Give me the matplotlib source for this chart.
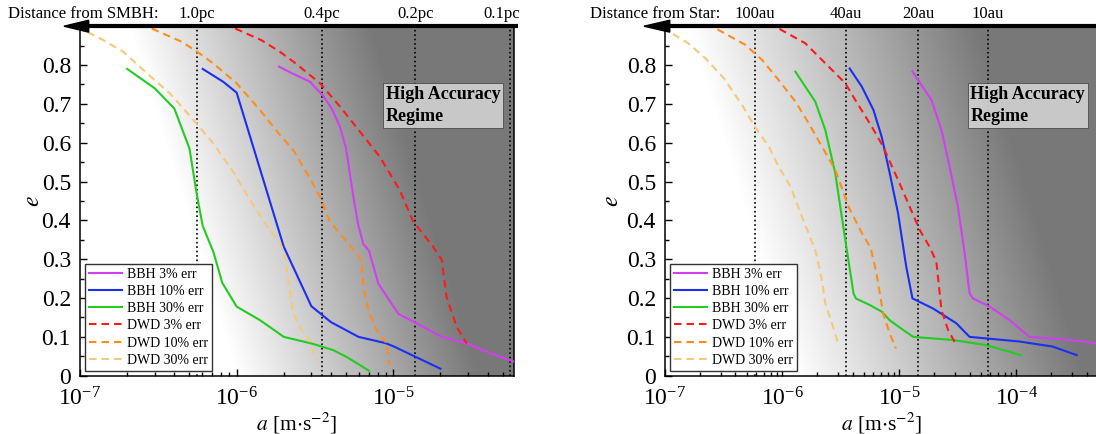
import numpy as np
import matplotlib
matplotlib.use("Agg")
from matplotlib import pyplot as plt
from matplotlib.patches import Polygon
from matplotlib.ticker import FixedLocator, FuncFormatter, LogLocator

plt.rcParams['font.family'] = ['Liberation Serif', 'DejaVu Serif']
plt.rcParams['mathtext.fontset'] = 'stix'

# ---------------- data ----------------
labels = ['BBH 3% err', 'BBH 10% err', 'BBH 30% err',
          'DWD 3% err', 'DWD 10% err', 'DWD 30% err']

# left panel: SMBH
smbh_dist_labels = ['1.0pc', '0.4pc', '0.2pc', '0.1pc']
smbh_dist_a = [5.6e-7, 3.5e-6, 1.38e-5, 5.57e-5]

smbh_bbh3_a = [1.86e-6, 2.2e-6, 2.94e-6, 3.58e-6, 4.05e-6, 4.57e-6, 5.0e-6, 5.56e-6, 5.98e-6,
               6.44e-6, 7.0e-6, 8.03e-6, 1.08e-5, 1.41e-5, 2.04e-5, 2.94e-5, 3.94e-5, 5.9e-5]
smbh_bbh3_e = [0.796, 0.781, 0.757, 0.720, 0.688, 0.641, 0.585, 0.461, 0.388,
               0.339, 0.322, 0.237, 0.159, 0.135, 0.100, 0.083, 0.062, 0.036]
smbh_bbh10_a = [6.07e-7, 8.2e-7, 1.0e-6, 2.0e-6, 3.0e-6, 4.0e-6, 6.0e-6, 8.9e-6, 1.0e-5, 2.0e-5]
smbh_bbh10_e = [0.790, 0.757, 0.729, 0.332, 0.179, 0.138, 0.100, 0.084, 0.076, 0.018]
smbh_bbh30_a = [2.0e-7, 3.0e-7, 4.0e-7, 5.0e-7, 5.55e-7, 6.07e-7, 7.1e-7, 8.1e-7, 1.0e-6,
                1.41e-6, 2.0e-6, 3.07e-6, 4.13e-6, 5.05e-6, 7.0e-6]
smbh_bbh30_e = [0.790, 0.740, 0.688, 0.585, 0.470, 0.386, 0.319, 0.239, 0.178,
                0.143, 0.100, 0.082, 0.066, 0.048, 0.013]
smbh_dwd3_a = [9.8e-7, 1.44e-6, 1.89e-6, 2.3e-6, 3.41e-6, 4.57e-6, 6.14e-6, 8.2e-6, 1.1e-5,
               1.34e-5, 1.8e-5, 2.04e-5, 2.19e-5, 2.54e-5, 2.94e-5]
smbh_dwd3_e = [0.894, 0.864, 0.834, 0.809, 0.753, 0.693, 0.628, 0.564, 0.478,
               0.397, 0.332, 0.298, 0.203, 0.126, 0.083]
smbh_dwd10_a = [2.87e-7, 4.46e-7, 5.7e-7, 7.1e-7, 1.0e-6, 1.41e-6, 1.89e-6, 2.3e-6, 2.94e-6,
                3.41e-6, 3.94e-6, 5.05e-6, 5.84e-6, 6.28e-6, 6.44e-6, 6.93e-6, 7.83e-6,
                9.08e-6, 9.44e-6]
smbh_dwd10_e = [0.894, 0.860, 0.832, 0.804, 0.753, 0.684, 0.620, 0.581, 0.508,
                0.461, 0.397, 0.345, 0.315, 0.297, 0.229, 0.169, 0.118, 0.083, 0.027]
smbh_dwd30_a = [1.12e-7, 1.41e-7, 1.89e-7, 2.67e-7, 3.75e-7, 5.42e-7, 7.1e-7, 9.5e-7, 1.22e-6,
                1.52e-6, 1.89e-6, 2.0e-6, 2.14e-6, 2.3e-6, 2.6e-6, 2.94e-6, 3.17e-6]
smbh_dwd30_e = [0.885, 0.864, 0.834, 0.779, 0.727, 0.654, 0.598, 0.525, 0.452,
                0.392, 0.341, 0.320, 0.246, 0.160, 0.118, 0.091, 0.040]

# right panel: star
star_dist_labels = ['100au', '40au', '20au', '10au']
star_dist_a = [5.85e-7, 3.53e-6, 1.45e-5, 5.74e-5]

star_bbh3_a = [1.3e-5, 1.89e-5, 2.3e-5, 2.7e-5, 3.18e-5, 3.63e-5, 4.0e-5, 4.27e-5, 5.93e-5,
               8.8e-5, 1.3e-4, 2.85e-4, 5.0e-4]
star_bbh3_e = [0.783, 0.710, 0.633, 0.538, 0.435, 0.315, 0.212, 0.199, 0.178,
               0.143, 0.100, 0.092, 0.083]
star_bbh10_a = [3.78e-6, 4.81e-6, 6.04e-6, 7.1e-6, 8.32e-6, 9.8e-6, 1.15e-5, 1.3e-5, 1.95e-5,
                3.08e-5, 4.0e-5, 1.07e-4, 2.05e-4, 3.29e-4]
star_bbh10_e = [0.791, 0.744, 0.684, 0.615, 0.521, 0.418, 0.281, 0.199, 0.173,
                0.135, 0.100, 0.088, 0.075, 0.053]
star_bbh30_a = [1.3e-6, 1.92e-6, 2.34e-6, 2.85e-6, 3.47e-6, 4.08e-6, 4.27e-6, 5.62e-6, 7.1e-6,
                8.3e-6, 1.08e-5, 1.32e-5, 2.88e-5, 5.5e-5, 1.1e-4]
star_bbh30_e = [0.783, 0.706, 0.633, 0.521, 0.349, 0.212, 0.199, 0.182, 0.165,
                0.143, 0.118, 0.100, 0.092, 0.079, 0.053]
star_dwd3_a = [9.5e-7, 1.58e-6, 2.5e-6, 3.47e-6, 4.22e-6, 5.85e-6, 7.3e-6, 1.01e-5, 1.5e-5,
               1.82e-5, 2.08e-5, 2.3e-5, 2.62e-5, 3.04e-5]
star_dwd3_e = [0.893, 0.856, 0.796, 0.753, 0.710, 0.641, 0.590, 0.495, 0.375,
               0.332, 0.294, 0.169, 0.118, 0.082]
star_dwd10_a = [2.8e-7, 4.86e-7, 6.76e-7, 9.37e-7, 1.3e-6, 1.69e-6, 2.19e-6, 2.85e-6, 3.7e-6,
                4.81e-6, 5.7e-6, 6.4e-6, 7.3e-6, 8.3e-6, 9.4e-6]
star_dwd10_e = [0.892, 0.852, 0.813, 0.761, 0.706, 0.650, 0.590, 0.530, 0.435,
                0.367, 0.330, 0.264, 0.161, 0.109, 0.070]
star_dwd30_a = [1.17e-7, 1.58e-7, 2.22e-7, 3.18e-7, 4.56e-7, 5.85e-7, 7.7e-7, 9.37e-7, 1.18e-6,
                1.48e-6, 1.92e-6, 2.19e-6, 2.34e-6, 2.67e-6, 3.04e-6]
star_dwd30_e = [0.880, 0.856, 0.817, 0.766, 0.697, 0.641, 0.590, 0.538, 0.487,
                0.409, 0.324, 0.246, 0.186, 0.135, 0.079]

colors = ['#d040f0', '#1a2ff0', '#22cc22', '#ff1a1a', '#ff8c1a', '#f5c87a']
dash = (0, (3.6, 2.4))


def shade(ax, xmin, xmax, u0, u1):
    # diagonal grey background, darker to the upper right
    xe = np.logspace(np.log10(xmin), np.log10(xmax), 301)
    ye = np.linspace(0, 0.9, 101)
    xc = (np.arange(300) + 0.5) / 300
    yc = (np.arange(100) + 0.5) / 100
    u = xc[None, :] + 0.25 * yc[:, None]
    t = np.clip((u - u0) / (u1 - u0), 0, 1)
    g = 1 - 0.53 * t
    ax.pcolormesh(xe, ye, g, cmap='gray', vmin=0, vmax=1, shading='flat', zorder=0,
                  rasterized=True)


def panel(ax, xmax, curves, dist_a, dist_labels, u0, u1, tip, base, ylab_x):
    shade(ax, 1e-7, xmax, u0, u1)
    for a in dist_a:
        ax.axvline(a, color='k', ls=':', lw=1.2, zorder=1)
    for i, (a, e) in enumerate(curves):
        ls = '-' if i < 3 else dash
        ax.plot(a, e, color=colors[i], lw=1.5, ls=ls, label=labels[i], zorder=3)

    ax.set_xscale('log')
    ax.set_xlim(1e-7, xmax)
    ax.set_ylim(0, 0.9)
    ax.yaxis.set_major_locator(FixedLocator(np.arange(0, 0.85, 0.1)))
    ax.yaxis.set_minor_locator(FixedLocator(np.arange(0.05, 0.9, 0.1)))
    ax.yaxis.set_major_formatter(FuncFormatter(lambda v, p: '0' if abs(v) < 1e-9 else f'{v:.1f}'))
    ax.xaxis.set_major_locator(LogLocator(base=10, numticks=10))
    ax.xaxis.set_minor_locator(LogLocator(base=10, subs=np.arange(2, 10), numticks=20))
    ax.tick_params(which='both', direction='in', labelsize=17, width=1)
    ax.tick_params(axis='y', pad=6.5)
    ax.tick_params(axis='x', pad=8.5)
    ax.tick_params(which='major', length=5)
    ax.tick_params(which='minor', length=3)
    ax.spines['top'].set_visible(False)
    for s in ['left', 'bottom', 'right']:
        ax.spines[s].set_linewidth(1.1)

    ax.set_xlabel(r'$a$ [m$\cdot$s$^{-2}$]', fontsize=15.5)
    ax.xaxis.set_label_coords(0.5, -0.1)
    ax.set_ylabel(r'$e$', fontsize=17)
    ax.yaxis.set_label_coords(ylab_x, 0.5)

    # arrow along the top
    ax.plot([base, 1.01], [1, 1], color='k', lw=3, transform=ax.transAxes, clip_on=False,
            solid_capstyle='butt', zorder=5)
    ax.add_patch(Polygon([[tip, 1], [base + 0.002, 1.017], [base + 0.002, 0.983]],
                         closed=True, color='k', transform=ax.transAxes, clip_on=False,
                         zorder=5))

    tr = ax.get_xaxis_transform()
    for a, lab in zip(dist_a, dist_labels):
        if a > xmax * 0.85:
            ax.annotate(lab, (a, 1.035), xycoords=tr, xytext=(-6, 0),
                        textcoords='offset points', ha='center', va='center', fontsize=12)
        else:
            ax.text(a, 1.035, lab, transform=tr, ha='center', va='center', fontsize=12)

    ax.text(0.705, 0.83, 'High Accuracy\nRegime', transform=ax.transAxes, ha='left',
            va='top', fontsize=13, fontweight='bold', linespacing=1.4, zorder=2,
            bbox=dict(boxstyle='square,pad=0.15', facecolor='#d0d0d0', edgecolor='#444444',
                      lw=0.6, alpha=0.92))

    leg = ax.legend(loc='lower left', fontsize=10, frameon=True, fancybox=False,
                    borderaxespad=0.35, borderpad=0.3, labelspacing=0.3,
                    handlelength=2.4, handletextpad=0.3, framealpha=1)
    leg.get_frame().set_edgecolor('#333333')
    leg.get_frame().set_linewidth(1.0)


fig = plt.figure(figsize=(10.96, 4.34), dpi=100)
H = 434.0
W = 1096.0
ax1 = fig.add_axes([80 / W, 1 - 375.7 / H, 434 / W, 349.5 / H])
ax2 = fig.add_axes([665 / W, 1 - 375.7 / H, 433 / W, 349.5 / H])

left_curves = [(smbh_bbh3_a, smbh_bbh3_e), (smbh_bbh10_a, smbh_bbh10_e),
               (smbh_bbh30_a, smbh_bbh30_e), (smbh_dwd3_a, smbh_dwd3_e),
               (smbh_dwd10_a, smbh_dwd10_e), (smbh_dwd30_a, smbh_dwd30_e)]
right_curves = [(star_bbh3_a, star_bbh3_e), (star_bbh10_a, star_bbh10_e),
                (star_bbh30_a, star_bbh30_e), (star_dwd3_a, star_dwd3_e),
                (star_dwd10_a, star_dwd10_e), (star_dwd30_a, star_dwd30_e)]

panel(ax1, 5.9e-5, left_curves, smbh_dist_a, smbh_dist_labels, 0.36, 0.92, -0.037, 0.018, -0.083)
panel(ax2, 5.0e-4, right_curves, star_dist_a, star_dist_labels, 0.30, 0.97, -0.0485, 0.009, -0.098)

fig.text(8 / W, 1 - 14 / H, 'Distance from SMBH:', ha='left', va='center', fontsize=12)
fig.text(590 / W, 1 - 14 / H, 'Distance from Star:', ha='left', va='center', fontsize=12)

fig.savefig('out.png', dpi=100)
